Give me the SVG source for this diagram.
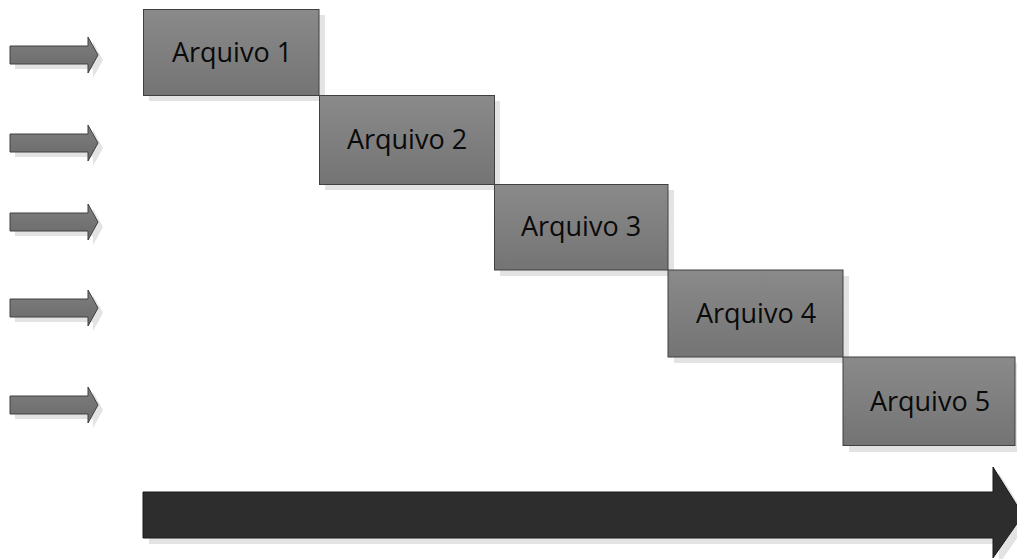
<svg xmlns="http://www.w3.org/2000/svg" width="1017" height="559" viewBox="0 0 1017 559">
<defs>
<linearGradient id="g" x1="0" y1="0" x2="0" y2="1"><stop offset="0" stop-color="#8a8a8a"/><stop offset="1" stop-color="#747474"/></linearGradient>
<linearGradient id="ga" x1="0" y1="0" x2="0" y2="1"><stop offset="0" stop-color="#7e7e7e"/><stop offset="1" stop-color="#6a6a6a"/></linearGradient>
<path id="sa" d="M10,46 H88 V37 L98,55 L88,73 V64 H10 Z"/>
</defs>
<style>
.box{fill:url(#g);stroke:#404040;stroke-width:1}
.sh{fill:#e3e3e3}
.ar{fill:url(#ga);stroke:#404040;stroke-width:1}
.t{font-family:"Open Sans","Noto Sans",sans-serif;font-size:27px;fill:#0a0a0a;text-anchor:middle}
</style>
<rect width="1017" height="559" fill="#fff"/>
<g id="connectors">
<g transform="translate(0,0)"><use href="#sa" class="sh" transform="translate(5,5)"/><use href="#sa" class="ar"/></g>
<g transform="translate(0,88)"><use href="#sa" class="sh" transform="translate(5,5)"/><use href="#sa" class="ar"/></g>
<g transform="translate(0,167)"><use href="#sa" class="sh" transform="translate(5,5)"/><use href="#sa" class="ar"/></g>
<g transform="translate(0,253)"><use href="#sa" class="sh" transform="translate(5,5)"/><use href="#sa" class="ar"/></g>
<g transform="translate(0,350)"><use href="#sa" class="sh" transform="translate(5,5)"/><use href="#sa" class="ar"/></g>
<path d="M149,498 H999 V473 L1029,521 L999,564 V544 H149 Z" fill="#e3e3e3"/>
<path d="M143,492 H993 V467 L1023,515 L993,558 V538 H143 Z" fill="#2d2d2d" stroke="#1a1a1a" stroke-width="1"/>
</g>
<g id="n1"><rect class="sh" x="149" y="15" width="176" height="86"/><rect class="box" x="143.5" y="9.5" width="175.5" height="86"/><text class="t" x="232" y="62">Arquivo 1</text></g>
<g id="n2"><rect class="sh" x="325" y="101" width="175" height="89"/><rect class="box" x="319.5" y="95.5" width="175" height="89"/><text class="t" x="407" y="149">Arquivo 2</text></g>
<g id="n3"><rect class="sh" x="500" y="190" width="174" height="86"/><rect class="box" x="494.5" y="184.5" width="173.5" height="85.5"/><text class="t" x="581" y="236">Arquivo 3</text></g>
<g id="n4"><rect class="sh" x="674" y="276" width="175" height="87"/><rect class="box" x="668" y="270" width="175" height="87"/><text class="t" x="756" y="323">Arquivo 4</text></g>
<g id="n5"><rect class="sh" x="849" y="363" width="175" height="89"/><rect class="box" x="843" y="357" width="172" height="88.5"/><text class="t" x="930" y="411">Arquivo 5</text></g>
</svg>
